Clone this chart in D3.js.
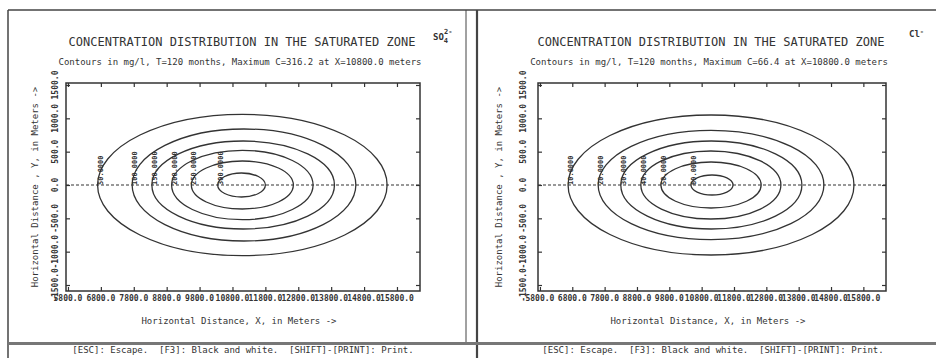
<!DOCTYPE html>
<html>
<head>
<meta charset="utf-8">
<script src="https://cdn.jsdelivr.net/npm/d3@7"></script>
<style>
  body { margin: 0; background: #fff; }
  svg { display: block; }
  text { font-family: "DejaVu Sans Mono", monospace; fill: #333; white-space: pre; }
</style>
</head>
<body>
<svg id="chart" width="936" height="358"></svg>
<script>
// tick values shared by both panels
var xTicks = [5800, 6800, 7800, 8800, 9800, 10800, 11800, 12800, 13800, 14800, 15800];
var yTicks = [-1500, -1000, -500, 0, 500, 1000, 1500];

// SO4 contours (mg/l) - left / right vertex on the centre line and half width, in meters
var so4Levels = [50, 100, 150, 200, 250, 300];
var so4LeftX = [6700, 7750, 8350, 8950, 9550, 10350];
var so4RightX = [15500, 14550, 13900, 13250, 12650, 11800];
var so4HalfY = [1060, 840, 660, 520, 360, 180];

// Cl contours (mg/l)
var clLevels = [10, 20, 30, 40, 50, 60];
var clLeftX = [6670, 7600, 8300, 8920, 9540, 10470];
var clRightX = [15510, 14580, 13900, 13250, 12640, 11770];
var clHalfY = [1050, 820, 660, 510, 345, 150];

var title = 'CONCENTRATION DISTRIBUTION IN THE SATURATED ZONE';
var subtitles = [
    'Contours in mg/l, T=120 months, Maximum C=316.2 at X=10800.0 meters',
    'Contours in mg/l, T=120 months, Maximum C=66.4 at X=10800.0 meters'
];
var xTitle = 'Horizontal Distance, X, in Meters ->';
var yTitle = 'Horizontal Distance , Y, in Meters ->';
var statusText = '[ESC]: Escape.  [F3]: Black and white.  [SHIFT]-[PRINT]: Print.';

var svg = d3.select('#chart');
var ink = '#333';

// screen frame
var frame = svg.append('g').attr('stroke', '#444').attr('fill', 'none');
frame.append('line').attr('x1', 8).attr('x2', 936).attr('y1', 10).attr('y2', 10).attr('stroke-width', 1.5);
frame.append('line').attr('x1', 8).attr('x2', 8).attr('y1', 10).attr('y2', 358).attr('stroke-width', 1.5);
frame.append('line').attr('x1', 466).attr('x2', 466).attr('y1', 10).attr('y2', 343).attr('stroke-width', 1);
frame.append('line').attr('x1', 477).attr('x2', 477).attr('y1', 10).attr('y2', 358).attr('stroke-width', 2.2);
frame.append('line').attr('x1', 8).attr('x2', 936).attr('y1', 343.5).attr('y2', 343.5)
    .attr('stroke', '#777').attr('stroke-width', 3);

var panels = [
    {
        left: 66, right: 420, labelX: 55, titleX: 35, cx: 242,
        levels: so4Levels, lx: so4LeftX, rx: so4RightX, hy: so4HalfY,
        subtitle: subtitles[0], status: 243
    },
    {
        left: 538, right: 886, labelX: 523, titleX: 499, cx: 711,
        levels: clLevels, lx: clLeftX, rx: clRightX, hy: clHalfY,
        subtitle: subtitles[1], status: 713
    }
];

panels.forEach(function (p, i) {
    var g = svg.append('g');
    var x = d3.scaleLinear().domain([5740, 16500]).range([p.left, p.right]);
    var y = d3.scaleLinear().domain([-1590, 1530]).range([291, 83]);

    g.append('text').attr('x', p.cx).attr('y', 46).attr('text-anchor', 'middle')
        .style('font-size', '12px').text(title);
    g.append('text').attr('x', p.cx - 2).attr('y', 65).attr('text-anchor', 'middle')
        .style('font-size', '9px').text(p.subtitle);

    // plot box
    g.append('rect')
        .attr('x', x.range()[0]).attr('y', y.range()[1])
        .attr('width', x.range()[1] - x.range()[0])
        .attr('height', y.range()[0] - y.range()[1])
        .attr('fill', 'none').attr('stroke', ink).attr('stroke-width', 1.5);

    // inward ticks on all four sides
    var axes = [
        [d3.axisBottom(x).tickValues(xTicks), 'translate(0,' + y.range()[0] + ')'],
        [d3.axisTop(x).tickValues(xTicks), 'translate(0,' + y.range()[1] + ')'],
        [d3.axisLeft(y).tickValues(yTicks), 'translate(' + x.range()[0] + ',0)'],
        [d3.axisRight(y).tickValues(yTicks), 'translate(' + x.range()[1] + ',0)']
    ];
    axes.forEach(function (a) {
        var ax = g.append('g').attr('transform', a[1])
            .call(a[0].tickSize(-4).tickFormat(''));
        ax.select('.domain').remove();
        ax.selectAll('line').attr('stroke', ink).attr('stroke-width', 1.2);
    });

    // x tick labels
    g.selectAll('.xl').data(xTicks).enter().append('text')
        .attr('x', function (d) { return x(d); })
        .attr('y', 301)
        .attr('text-anchor', 'middle')
        .style('font-size', '8px').style('font-weight', 'bold')
        .text(function (d) { return d.toFixed(1); });

    // y tick labels, rotated
    g.selectAll('.yl').data(yTicks).enter().append('text')
        .attr('transform', function (d) {
            return 'translate(' + p.labelX + ',' + y(d) + ') rotate(-90)';
        })
        .attr('text-anchor', 'middle')
        .attr('dominant-baseline', 'central')
        .style('font-size', '8px').style('font-weight', 'bold')
        .text(function (d) { return d.toFixed(1); });

    g.append('text').attr('x', p.cx - 3).attr('y', 324).attr('text-anchor', 'middle')
        .style('font-size', '9px').text(xTitle);
    g.append('text')
        .attr('transform', 'translate(' + p.titleX + ',187) rotate(-90)')
        .attr('text-anchor', 'middle').attr('dominant-baseline', 'central')
        .style('font-size', '9px').text(yTitle);

    // dashed centre line
    g.append('line')
        .attr('x1', x.range()[0]).attr('x2', x.range()[1])
        .attr('y1', y(0)).attr('y2', y(0))
        .attr('stroke', ink).attr('stroke-width', 1.2)
        .attr('stroke-dasharray', '3,2');

    // contour ellipses
    var contours = p.levels.map(function (v, k) {
        return { level: v, x0: p.lx[k], x1: p.rx[k], h: p.hy[k] };
    });
    g.selectAll('ellipse').data(contours).enter().append('ellipse')
        .attr('cx', function (d) { return (x(d.x0) + x(d.x1)) / 2; })
        .attr('cy', y(0))
        .attr('rx', function (d) { return (x(d.x1) - x(d.x0)) / 2; })
        .attr('ry', function (d) { return y(0) - y(d.h); })
        .attr('fill', 'none').attr('stroke', ink).attr('stroke-width', 1.3);

    // contour labels, written upward from the centre line
    g.selectAll('.cl').data(contours).enter().append('text')
        .attr('transform', function (d) {
            return 'translate(' + (x(d.x0) + 3) + ',' + y(0) + ') rotate(-90)';
        })
        .attr('dominant-baseline', 'central')
        .style('font-size', '7px').style('font-weight', 'bold')
        .text(function (d) { return d.level.toFixed(4); });

    g.append('text').attr('x', p.status).attr('y', 353).attr('text-anchor', 'middle')
        .style('font-size', '9px').text(statusText);
});

// ion labels
var so4 = svg.append('text').attr('x', 433).attr('y', 40)
    .style('font-size', '9px').style('font-weight', 'bold');
so4.append('tspan').text('SO');
so4.append('tspan').attr('dy', 3).style('font-size', '7px').text('4');
so4.append('tspan').attr('dx', -4).attr('dy', -9).style('font-size', '7px').text('2-');

var cl = svg.append('text').attr('x', 909).attr('y', 37)
    .style('font-size', '9px').style('font-weight', 'bold');
cl.append('tspan').text('Cl');
cl.append('tspan').attr('dy', -3).style('font-size', '7px').text('-');
</script>
</body>
</html>
